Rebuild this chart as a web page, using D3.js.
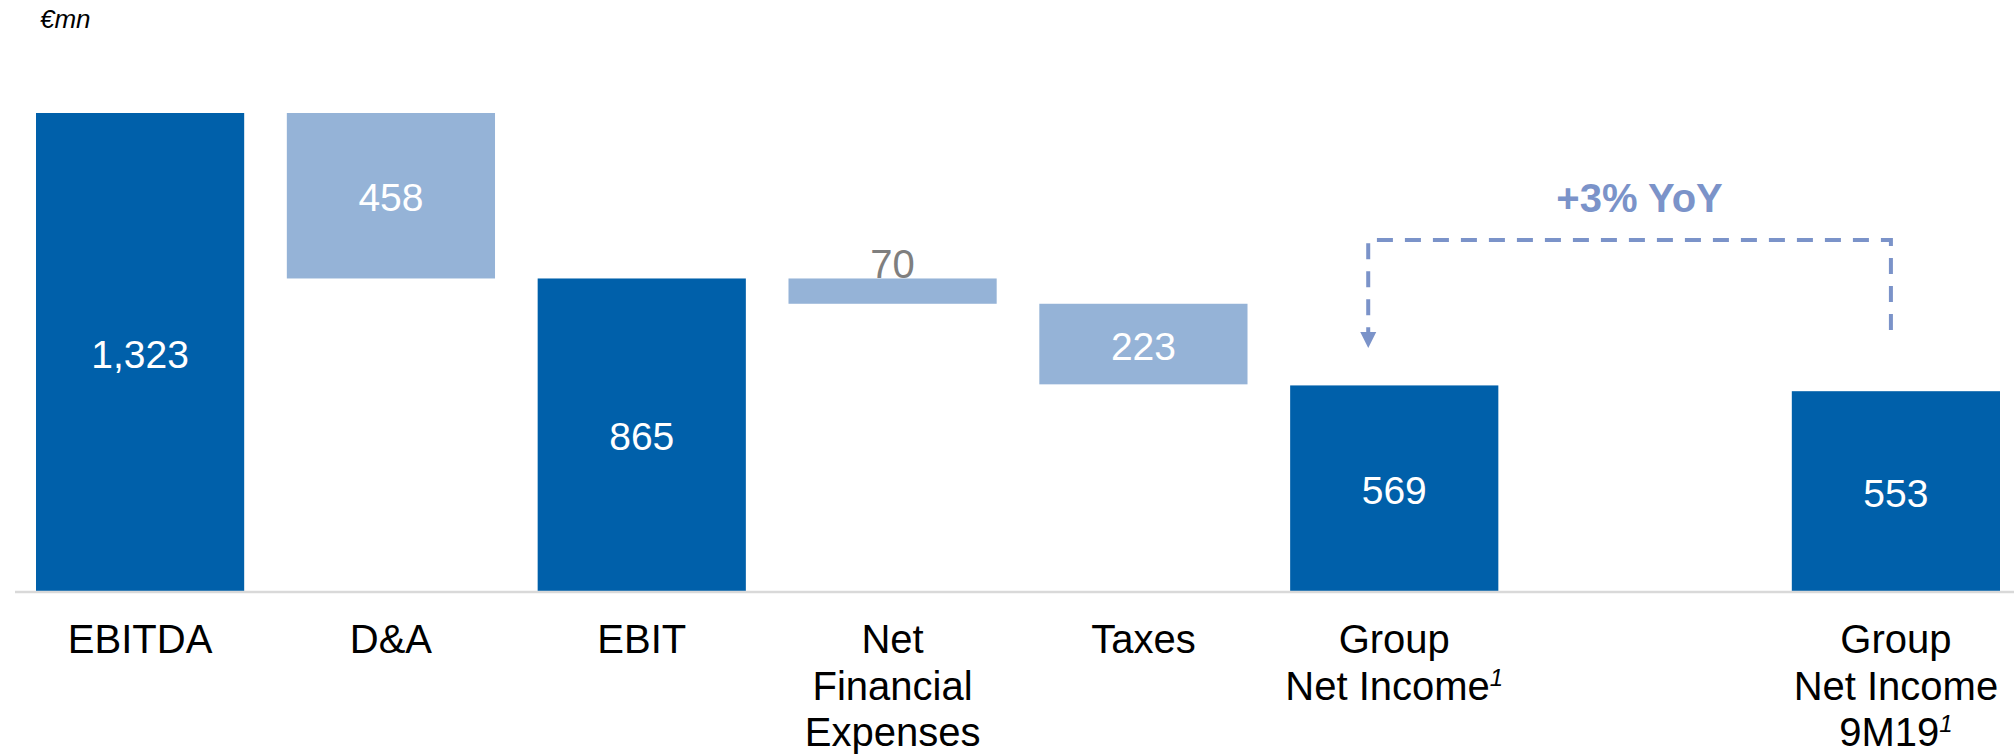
<!DOCTYPE html>
<html>
<head>
<meta charset="utf-8">
<script src="https://cdn.jsdelivr.net/npm/d3@7"></script>
<style>
  html, body { margin: 0; padding: 0; background: #ffffff; }
  svg { display: block; font-family: "Liberation Sans", Arial, sans-serif; }
</style>
</head>
<body>
<svg id="chart" width="2014" height="754"></svg>
<script>
// ---- data ----
const categories = ["EBITDA", "D&A", "EBIT", "Net Financial Expenses", "Taxes", "Group Net Income", "spacer", "Group Net Income 9M19"];
const values     = [1323, 458, 865, 70, 223, 569, null, 553];
const barTypes   = ["total", "decrease", "total", "decrease", "decrease", "total", "none", "total"];
const valueLabels = ["1,323", "458", "865", "70", "223", "569", "", "553"];
const labelLines = [["EBITDA"], ["D&A"], ["EBIT"], ["Net", "Financial", "Expenses"], ["Taxes"], ["Group", "Net Income"], [], ["Group", "Net Income", "9M19"]];
const footnoteLine = [-1, -1, -1, -1, -1, 1, -1, 2]; // index of label line carrying footnote "1"
const unitLabel = "€mn";
const annotationText = "+3% YoY";

// ---- layout ----
const svg = d3.select("#chart");
const colors = { total: "#0060aa", decrease: "#95b3d7", dash: "#7b93c9", axis: "#d9d9d9" };

const x = d3.scaleBand().domain(categories).range([36, 2000]).paddingInner(0.17).paddingOuter(0);
const y = d3.scaleLinear().domain([0, d3.max(values)]).range([591, 113]);

// compute waterfall segments
let running = 0;
const bars = categories.map((c, i) => {
  const t = barTypes[i], v = values[i];
  let y0 = 0, y1 = 0;
  if (t === "total") { y0 = 0; y1 = v; running = v; }
  else if (t === "decrease") { y0 = running - v; y1 = running; running = running - v; }
  return { cat: c, type: t, v, y0, y1, label: valueLabels[i], i };
}).filter(d => d.type !== "none");

// unit label
svg.append("text").attr("x", 40).attr("y", 28)
  .attr("font-size", 26).attr("font-style", "italic").attr("fill", "#000")
  .text(unitLabel);

// small label drawn under bar (70)
bars.filter(d => (y(d.y0) - y(d.y1)) < 40).forEach(d => {
  svg.append("text")
    .attr("x", x(d.cat) + x.bandwidth() / 2)
    .attr("y", y(d.y1))
    .attr("text-anchor", "middle")
    .attr("font-size", 40)
    .attr("fill", "#7f7f7f")
    .text(d.label);
});

// bars
svg.append("g").selectAll("rect").data(bars).join("rect")
  .attr("x", d => x(d.cat))
  .attr("width", x.bandwidth())
  .attr("y", d => y(d.y1))
  .attr("height", d => y(d.y0) - y(d.y1))
  .attr("fill", d => colors[d.type]);

// value labels inside bars
svg.append("g").selectAll("text").data(bars.filter(d => (y(d.y0) - y(d.y1)) >= 40)).join("text")
  .attr("x", d => x(d.cat) + x.bandwidth() / 2)
  .attr("y", d => (y(d.y0) + y(d.y1)) / 2 + 2)
  .attr("dy", "0.35em")
  .attr("text-anchor", "middle")
  .attr("font-size", 39)
  .attr("fill", "#ffffff")
  .text(d => d.label);

// baseline
svg.append("line").attr("x1", 15).attr("x2", 2014).attr("y1", y(0) + 1).attr("y2", y(0) + 1)
  .attr("stroke", colors.axis).attr("stroke-width", 2.5);

// category labels
categories.forEach((c, i) => {
  const lines = labelLines[i];
  if (!lines.length) return;
  const cx = x(c) + x.bandwidth() / 2;
  lines.forEach((ln, j) => {
    const t = svg.append("text")
      .attr("x", cx)
      .attr("y", 653 + j * 46.5)
      .attr("text-anchor", "middle")
      .attr("font-size", 40)
      .attr("fill", "#000");
    t.append("tspan").text(ln);
    if (footnoteLine[i] === j) {
      t.append("tspan").attr("font-size", 24).attr("font-style", "italic")
        .attr("baseline-shift", "60%").text("1");
    }
  });
});

// annotation bracket
const gi = categories.indexOf("Group Net Income");
const gj = categories.indexOf("Group Net Income 9M19");
const lx = x(categories[gi]) + x.bandwidth() * 0.375;
const rx = x(categories[gj]) + x.bandwidth() * 0.476;
const topY = 240;
svg.append("path")
  .attr("d", `M${rx},330 V${topY} H${lx} V333`)
  .attr("fill", "none")
  .attr("stroke", colors.dash)
  .attr("stroke-width", 4)
  .attr("stroke-dasharray", "16 12");
svg.append("path")
  .attr("d", `M${lx - 8},332 L${lx + 8},332 L${lx},348 Z`)
  .attr("fill", colors.dash);

svg.append("text")
  .attr("x", (lx + rx) / 2 + 10)
  .attr("y", 212)
  .attr("text-anchor", "middle")
  .attr("font-size", 40)
  .attr("font-weight", "bold")
  .attr("fill", colors.dash)
  .text(annotationText);
</script>
</body>
</html>
